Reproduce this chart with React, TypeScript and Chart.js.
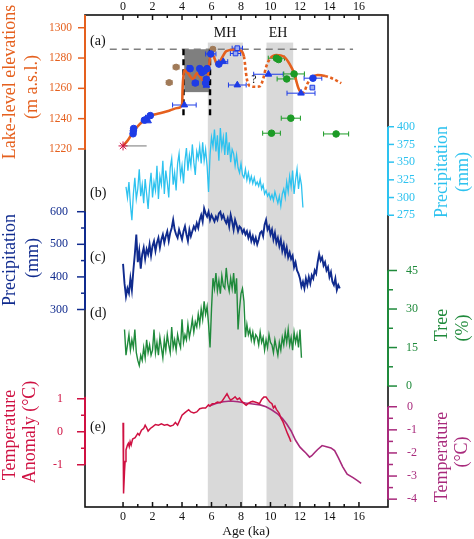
import React, { useEffect, useRef } from 'react';
import { Chart, registerables } from 'chart.js';
Chart.register(...registerables);

const FONT = '"Liberation Serif", "Times New Roman", serif';

// ---------- x axis (Age, ka) ----------
const X_MIN = -2.58;
const X_MAX = 17.97;
const AGE_TICKS = [0, 2, 4, 6, 8, 10, 12, 14, 16];
const AGE_MINOR = [1, 3, 5, 7, 9, 11, 13, 15];

// ---------- (a) lake level ----------
const LAKE_TICKS = [1220, 1240, 1260, 1280, 1300];
const LAKE_CURVE_AGE = [0, 0.35, 0.7, 1.1, 1.5, 1.9, 2.5, 3.2, 3.7, 4.0, 4.05, 4.15, 4.4, 4.75, 5.0, 5.2, 5.45, 5.7, 5.85, 5.95, 6.15, 6.4, 6.7, 7.0, 7.5, 7.95, 8.2, 8.4, 8.6, 9.0, 9.3, 9.5, 9.7, 10.0, 10.4, 10.9, 11.3, 11.6, 11.9, 12.1, 12.3, 12.5, 12.8, 13.2, 13.7, 14.2, 14.8];
const LAKE_CURVE_ELEV = [1222, 1226, 1231.5, 1236, 1239.5, 1242, 1243.5, 1245.5, 1247, 1249, 1262, 1272, 1270, 1266, 1270, 1268, 1265, 1265, 1276, 1283, 1281, 1275.5, 1280, 1284.5, 1285.5, 1285, 1281, 1266, 1261.5, 1261, 1261.5, 1266, 1274, 1280, 1282, 1281, 1276, 1270, 1260, 1257, 1258, 1263, 1267, 1268.8, 1268.2, 1266.5, 1263.4];
const LAKE_DASHED = [[8.1, 9.8], [12.0, 12.6], [13.6, 15]];

const BLUE_CIRCLE_AGE = [0.68, 0.7, 0.72, 1.45, 1.85, 4.55, 4.9, 5.2, 5.35, 5.5, 5.7, 5.6, 5.65, 5.95, 6.5, 12.88];
const BLUE_CIRCLE_ELEV = [1230, 1232, 1233.5, 1239, 1242, 1273, 1263.5, 1273, 1270.5, 1271.5, 1273, 1263.5, 1266, 1282.7, 1276, 1266.7];
const BLUE_CIRCLE_ERR = [0, 0, 0, 0, 0, 0.15, 0.2, 0, 0.1, 0.1, 0.15, 0.1, 0.1, 0.35, 0, 0.6];

const BLUE_TRI_AGE = [1.55, 1.7, 4.16, 5.65, 6.8, 7.75, 9.86, 12.07];
const BLUE_TRI_ELEV = [1240, 1238.5, 1249, 1262, 1277.6, 1262.2, 1269.3, 1256.8];
const BLUE_TRI_ERR = [0, 0, 0.8, 0.15, 0.3, 0.6, 1.0, 0.95];

const BLUE_SQ_AGE = [4.5, 7.63, 7.75, 12.84];
const BLUE_SQ_ELEV = [1273.5, 1283, 1286.5, 1260.5];
const BLUE_SQ_ERR = [0.12, 0.35, 0.35, 0];

const BROWN_AGE = [3.13, 3.6, 6.09];
const BROWN_ELEV = [1263.8, 1274, 1285.8];
const BROWN_ERR = [0.2, 0.2, 0.15];

const GREEN_PT_AGE = [10.4, 10.55, 11.6, 11.1, 11.38, 10.07, 14.45];
const GREEN_PT_ELEV = [1279.9, 1279, 1269.5, 1266.2, 1240.3, 1230.4, 1229.9];
const GREEN_PT_ERR = [0.55, 0, 0.7, 0.65, 0.65, 0.6, 0.85];

const STAR_AGE = [0];
const STAR_ELEV = [1222];
const STAR_LINE_AGE = [0, 1.6];
const STAR_LINE_ELEV = [1222, 1222];

const HIGHSTAND = 1285.8;
const DARK_BOX = { x0: 4.15, x1: 5.88, y0: 1257.5, y1: 1285.8 };
const DASH_V_AGES = [4.1, 5.9];
const DASH_V_BOTTOM = 1240;
const BANDS = [[5.75, 8.13], [9.73, 11.54]];
const BAND_TOP = 1290.2;

// ---------- (b) precipitation, cyan ----------
const CYAN_TICKS = [275, 300, 325, 350, 375, 400];
const CYAN_START = 0.2;
const CYAN_STEP = 0.1;
const CYAN_PRECIP = [
  315, 300, 322, 290, 268, 305, 328, 298, 312,
  340, 302, 318, 292, 326, 305, 284, 315, 335, 300,
  322, 310, 345, 298, 330, 318, 352, 305, 338, 322,
  300, 342, 355, 318, 335, 310, 348, 362, 330, 345,
  320, 352, 370, 338, 360, 345, 375, 350, 332, 365,
  355, 372, 348, 378, 352, 368, 345, 308, 360, 385,
  372, 396, 365, 388, 352, 398, 370, 385, 360, 392,
  360, 378, 350, 368, 362, 345, 360, 342, 335, 348,
  332, 328, 340, 325, 335, 322, 330, 320, 328, 318,
  322, 316, 325, 312, 318, 305, 310, 302, 306, 298,
  304, 296, 308, 300, 292, 302, 288, 305, 312, 300,
  322, 308, 330, 315, 338, 305, 325, 340, 312, 330,
  318, 286,
];

// ---------- (c) precipitation, navy ----------
const NAVY_TICKS = [300, 400, 500, 600];
const NAVY_MINOR = [350, 450, 550];
const NAVY_START = 0.0;
const NAVY_STEP = 0.1;
const NAVY_PRECIP = [
  440, 380, 340, 365, 350, 395, 360, 420, 470, 530,
  445, 480, 425, 470, 490, 455, 485, 470, 500, 465,
  495, 510, 480, 505, 520, 490, 515, 530, 505, 525,
  540, 510, 535, 550, 575, 545, 530, 520, 545, 530,
  515, 540, 555, 530, 510, 545, 525, 540, 555, 545,
  565, 550, 575, 590, 570, 610, 595, 585, 600, 575,
  590, 580, 570, 585, 575, 595, 600, 580, 590, 575,
  565, 580, 555, 590, 570, 545, 575, 560, 540, 555,
  550, 535, 545, 530, 540, 520, 535, 510, 525, 505,
  520, 500, 515, 535, 540, 525, 560, 575, 545, 555,
  530, 545, 515, 535, 505, 520, 495, 515, 480, 500,
  470, 490, 460, 475, 455, 465, 430, 445, 420, 410,
  395, 370, 385, 365, 395, 375, 400, 380, 405, 395,
  420, 410, 445, 470, 450, 460, 435, 445, 420, 430,
  400, 415, 385, 375, 395, 360, 375, 365,
];

// ---------- (d) tree pollen ----------
const TREE_TICKS = [0, 15, 30, 45];
const TREE_MINOR = [7.5, 22.5, 37.5];
const TREE_START = 0.1;
const TREE_STEP = 0.1;
const TREE_PCT = [
  22, 12, 16, 20, 14, 18, 15, 22, 13, 10,
  8, 12, 10, 15, 11, 18, 13, 16, 12, 14,
  22, 13, 17, 12, 19, 15, 11, 18, 14, 20,
  16, 13, 23, 15, 18, 14, 20, 17, 15, 26,
  17, 20, 18, 24, 19, 22, 26, 21, 25, 23,
  28, 24, 30, 26, 33, 28, 31, 24, 15, 30,
  42, 38, 44, 37, 41, 36, 43, 39, 38, 46,
  40, 37, 42, 38, 44, 36, 42, 22, 30, 36,
  38, 33, 19, 24, 20, 22, 18, 21, 17, 20,
  19, 16, 21, 17, 19, 14, 18, 15, 20, 17,
  16, 13, 18, 15, 12, 17, 14, 19, 16, 21,
  17, 22, 16, 19, 14, 21, 17, 20, 15, 22,
  11,
];

// ---------- (e) temperature ----------
const ANOM_TICKS = [-1, 0, 1];
const ANOM_MINOR = [-0.5, 0.5];
const ANOM_AGE = [0.0, 0.02, 0.05, 0.1, 0.14, 0.2, 0.3, 0.36, 0.42, 0.48, 0.55, 0.65, 0.82, 1.0, 1.1, 1.25, 1.4, 1.5, 1.6, 1.7, 1.85, 2.0, 2.2, 2.4, 2.6, 2.8, 3.0, 3.2, 3.4, 3.55, 3.7, 3.85, 4.0, 4.2, 4.45, 4.6, 4.8, 5.0, 5.2, 5.4, 5.6, 5.8, 5.9, 6.05, 6.25, 6.4, 6.6, 6.75, 6.9, 7.05, 7.2, 7.3, 7.45, 7.6, 7.75, 7.9, 8.05, 8.2, 8.35, 8.5, 8.65, 8.8, 8.95, 9.1, 9.25, 9.4, 9.55, 9.7, 9.85, 9.95, 10.1, 10.2, 10.3, 10.4, 10.5, 10.6, 10.7, 10.85, 11.0, 11.15, 11.3, 11.38];
const ANOM_VAL = [0.27, -0.6, -1.87, -1.2, -0.9, -0.55, -0.4, -0.35, -0.45, -0.3, -0.4, -0.22, -0.18, -0.05, -0.1, 0.05, 0.1, 0.2, 0.12, 0.02, 0.1, 0.15, 0.22, 0.2, 0.24, 0.2, 0.22, 0.17, 0.2, 0.28, 0.2, 0.35, 0.5, 0.58, 0.67, 0.6, 0.57, 0.6, 0.7, 0.72, 0.72, 0.82, 0.78, 0.85, 0.86, 0.9, 0.88, 0.95, 1.05, 1.15, 1.02, 0.96, 1.0, 1.06, 0.98, 1.02, 0.92, 0.86, 0.8, 0.86, 0.9, 0.92, 0.9, 0.88, 0.85, 0.98, 1.05, 1.05, 0.96, 0.9, 0.85, 0.72, 0.78, 0.68, 0.62, 0.55, 0.42, 0.3, 0.12, -0.05, -0.2, -0.3];

const TEMP_TICKS = [-4, -3, -2, -1, 0];
const TEMP_MINOR = [-3.5, -2.5, -1.5, -0.5];
const TEMP_AGE = [5.8, 6.3, 6.8, 7.3, 7.8, 8.3, 8.8, 9.3, 9.7, 10.1, 10.5, 10.8, 11.1, 11.4, 11.7, 12.0, 12.2, 12.4, 12.65, 12.8, 13.0, 13.2, 13.5, 13.8, 14.1, 14.35, 14.6, 14.9, 15.2, 15.6, 15.9, 16.15];
const TEMP_VAL = [0.02, 0.14, 0.22, 0.25, 0.22, 0.16, 0.12, 0.08, 0.0, -0.14, -0.32, -0.5, -0.75, -1.05, -1.45, -1.75, -1.88, -2.0, -2.18, -2.12, -1.98, -1.85, -1.68, -1.73, -1.78, -1.9, -2.2, -2.6, -2.92, -3.07, -3.2, -3.32];

// ---------- colours ----------
const C_LAKE = '#E5601E';
const C_CYAN = '#2DC2EF';
const C_NAVY = '#102B8E';
const C_GREEN = '#1F8A3B';
const C_RED = '#CF1142';
const C_PURPLE = '#A82A7C';
const C_BLUEPT = '#1E3CE6';
const C_BROWN = '#A07A58';
const C_GREENPT = '#1C9B26';

const pts = (xs: number[], ys: number[]) => xs.map((x, i) => ({ x, y: ys[i] }));
const series = (start: number, step: number, ys: number[]) =>
  ys.map((y, i) => ({ x: +(start + i * step).toFixed(3), y }));

// y axes: same height as the plot, tick labels drawn at the frame by the plugin
function yAxis(min: number, max: number, position: string) {
  return {
    type: 'linear',
    position,
    min,
    max,
    grid: { display: false, drawTicks: false },
    border: { display: false },
    ticks: { display: false },
    afterFit: (s: any) => {
      s.width = 0;
    },
  };
}

function xAxis(position: string, padding: number, height: number) {
  return {
    type: 'linear',
    position,
    min: X_MIN,
    max: X_MAX,
    grid: { display: false, drawTicks: false },
    border: { display: false },
    ticks: {
      color: '#111',
      font: { family: FONT, size: 12 },
      padding,
      maxRotation: 0,
      minRotation: 0,
      autoSkip: false,
      callback: (v: number) => String(v),
    },
    afterBuildTicks: (s: any) => {
      s.ticks = AGE_TICKS.map((v) => ({ value: v }));
    },
    afterFit: (s: any) => {
      s.height = height;
    },
  };
}

// y tick-label specs: axis id, side, labels, colour, font size, gap from frame
const Y_LABELS: [string, string, number[], string, number, number][] = [
  ['yLake', 'left', LAKE_TICKS, C_LAKE, 11.5, 13],
  ['yNavy', 'left', NAVY_TICKS, C_NAVY, 12, 17],
  ['yAnom', 'left', ANOM_TICKS, C_RED, 12, 22],
  ['yCyan', 'right', CYAN_TICKS, C_CYAN, 12, 9],
  ['yTree', 'right', TREE_TICKS, C_GREEN, 12, 18],
  ['yTemp', 'right', TEMP_TICKS, C_PURPLE, 12, 19],
];

const decorPlugin = {
  id: 'decor',
  beforeDatasetsDraw(chart: any) {
    const ctx = chart.ctx;
    const { bottom } = chart.chartArea;
    const x = chart.scales.x;
    const yL = chart.scales.yLake;
    ctx.save();
    ctx.fillStyle = '#D9D9D9';
    BANDS.forEach(([a, b]) => {
      const x0 = x.getPixelForValue(a);
      const x1 = x.getPixelForValue(b);
      const y0 = yL.getPixelForValue(BAND_TOP);
      ctx.fillRect(x0, y0, x1 - x0, bottom - y0);
    });
    ctx.fillStyle = '#7F7F7F';
    const bx0 = x.getPixelForValue(DARK_BOX.x0);
    const bx1 = x.getPixelForValue(DARK_BOX.x1);
    const by0 = yL.getPixelForValue(DARK_BOX.y1);
    const by1 = yL.getPixelForValue(DARK_BOX.y0);
    ctx.fillRect(bx0, by0, bx1 - bx0, by1 - by0);
    ctx.strokeStyle = '#808080';
    ctx.lineWidth = 1.6;
    ctx.setLineDash([7, 5]);
    ctx.beginPath();
    const hy = yL.getPixelForValue(HIGHSTAND);
    ctx.moveTo(x.getPixelForValue(-0.9), hy);
    ctx.lineTo(x.getPixelForValue(15.6), hy);
    ctx.stroke();
    ctx.strokeStyle = '#000';
    ctx.lineWidth = 2.4;
    ctx.setLineDash([6, 4]);
    DASH_V_AGES.forEach((a) => {
      const px = x.getPixelForValue(a);
      ctx.beginPath();
      ctx.moveTo(px, hy);
      ctx.lineTo(px, yL.getPixelForValue(DASH_V_BOTTOM));
      ctx.stroke();
    });
    ctx.setLineDash([]);
    chart.data.datasets.forEach((ds: any) => {
      if (!ds.errs) return;
      const ys = chart.scales[ds.yAxisID];
      ctx.strokeStyle = ds.errColor;
      ctx.lineWidth = 1;
      ds.data.forEach((p: any, j: number) => {
        const e = ds.errs[j];
        if (!e) return;
        const xa = x.getPixelForValue(p.x - e);
        const xb = x.getPixelForValue(p.x + e);
        const py = ys.getPixelForValue(p.y);
        ctx.beginPath();
        ctx.moveTo(xa, py);
        ctx.lineTo(xb, py);
        ctx.moveTo(xa, py - 2.5);
        ctx.lineTo(xa, py + 2.5);
        ctx.moveTo(xb, py - 2.5);
        ctx.lineTo(xb, py + 2.5);
        ctx.stroke();
      });
    });
    ctx.restore();
  },
  afterDraw(chart: any) {
    const ctx = chart.ctx;
    const { left, right, top, bottom } = chart.chartArea;
    const x = chart.scales.x;
    const S = chart.scales;
    ctx.save();
    ctx.strokeStyle = '#111';
    ctx.lineWidth = 1.6;
    ctx.strokeRect(left, top, right - left, bottom - top);
    const seg = (px: number, scale: any, a: number, b: number, color: string, clampTop = false) => {
      ctx.strokeStyle = color;
      ctx.lineWidth = 2;
      ctx.beginPath();
      ctx.moveTo(px, clampTop ? top : scale.getPixelForValue(a));
      ctx.lineTo(px, scale.getPixelForValue(b));
      ctx.stroke();
    };
    seg(left, S.yLake, 1308, 1219.5, C_LAKE, true);
    seg(left, S.yNavy, 600, 300, C_NAVY);
    seg(left, S.yAnom, 1.06, -1, C_RED);
    seg(right, S.yCyan, 400, 275, C_CYAN);
    seg(right, S.yTree, 45, 0, C_GREEN);
    seg(right, S.yTemp, 0, -4, C_PURPLE);
    const ticksY = (scale: any, side: string, vals: number[], len: number, color: string) => {
      ctx.strokeStyle = color;
      ctx.lineWidth = 1.5;
      vals.forEach((v) => {
        const py = scale.getPixelForValue(v);
        ctx.beginPath();
        if (side === 'left') {
          ctx.moveTo(left - len, py);
          ctx.lineTo(left, py);
        } else {
          ctx.moveTo(right, py);
          ctx.lineTo(right + len, py);
        }
        ctx.stroke();
      });
    };
    ticksY(S.yLake, 'left', LAKE_TICKS, 7, C_LAKE);
    ticksY(S.yNavy, 'left', NAVY_TICKS, 8, C_NAVY);
    ticksY(S.yNavy, 'left', NAVY_MINOR, 4, C_NAVY);
    ticksY(S.yAnom, 'left', ANOM_TICKS, 8, C_RED);
    ticksY(S.yAnom, 'left', ANOM_MINOR, 4, C_RED);
    ticksY(S.yCyan, 'right', CYAN_TICKS, 6, C_CYAN);
    ticksY(S.yTree, 'right', TREE_TICKS, 9, C_GREEN);
    ticksY(S.yTree, 'right', TREE_MINOR, 5, C_GREEN);
    ticksY(S.yTemp, 'right', TEMP_TICKS, 9, C_PURPLE);
    ticksY(S.yTemp, 'right', TEMP_MINOR, 5, C_PURPLE);
    ctx.strokeStyle = '#111';
    ctx.lineWidth = 1.5;
    const xt = (vals: number[], len: number) => {
      vals.forEach((v) => {
        const px = x.getPixelForValue(v);
        ctx.beginPath();
        ctx.moveTo(px, bottom);
        ctx.lineTo(px, bottom - len);
        ctx.moveTo(px, top);
        ctx.lineTo(px, top + len);
        ctx.stroke();
      });
    };
    xt(AGE_TICKS, 5);
    xt(AGE_MINOR, 3);

    // y tick labels from each scale
    Y_LABELS.forEach(([id, side, vals, color, size, gap]) => {
      const sc = S[id];
      ctx.fillStyle = color;
      ctx.font = `${size}px ${FONT}`;
      ctx.textBaseline = 'middle';
      ctx.textAlign = side === 'left' ? 'right' : 'left';
      vals.forEach((v) => {
        const px = side === 'left' ? left - gap : right + gap;
        ctx.fillText(String(v), px, sc.getPixelForValue(v));
      });
    });

    const text = (s: string, px: number, py: number, color: string, size: number, rot = false, align: CanvasTextAlign = 'center') => {
      ctx.save();
      ctx.fillStyle = color;
      ctx.font = `${size}px ${FONT}`;
      ctx.textAlign = align;
      ctx.textBaseline = 'middle';
      ctx.translate(px, py);
      if (rot) ctx.rotate(-Math.PI / 2);
      ctx.fillText(s, 0, 0);
      ctx.restore();
    };
    text('Lake-level elevations', 10, 82, C_LAKE, 18, true);
    text('(m a.s.l.)', 32, 87, C_LAKE, 18, true);
    text('Precipitation', 10, 260, C_NAVY, 18, true);
    text('(mm)', 33, 258, C_NAVY, 18, true);
    text('Temperature', 10, 435, C_RED, 18, true);
    text('Anomaly (°C)', 30, 432, C_RED, 18, true);
    text('Precipitation', 442, 172, C_CYAN, 18, true);
    text('(mm)', 463, 172, C_CYAN, 18, true);
    text('Tree', 442, 325, C_GREEN, 18, true);
    text('(%)', 463, 328, C_GREEN, 18, true);
    text('Temperature', 442, 457, C_PURPLE, 18, true);
    text('(°C)', 462, 452, C_PURPLE, 18, true);
    text('Age (ka)', 246, 531, '#111', 13.5);
    text('(a)', 90, 41, '#111', 14, false, 'left');
    text('(b)', 90, 193, '#111', 14, false, 'left');
    text('(c)', 90, 257, '#111', 14, false, 'left');
    text('(d)', 90, 313, '#111', 14, false, 'left');
    text('(e)', 90, 427, '#111', 14, false, 'left');
    text('MH', 225, 33, '#111', 14);
    text('EH', 278, 33, '#111', 14);
    text('?', 254, 80, '#111', 12);
    ctx.restore();
  },
};

export default function App() {
  const ref = useRef<HTMLCanvasElement | null>(null);
  useEffect(() => {
    if (!ref.current) return;
    const scatter = (label: string, data: any[], style: string, r: number, bg: string, border: string, errs?: number[], errColor?: string) => ({
      type: 'scatter',
      label,
      data,
      xAxisID: 'x',
      yAxisID: 'yLake',
      pointStyle: style,
      pointRadius: r,
      backgroundColor: bg,
      borderColor: border,
      borderWidth: 1,
      showLine: false,
      order: 0,
      errs,
      errColor,
    });
    const line = (label: string, data: any[], yAxisID: string, color: string, width: number, order: number) => ({
      type: 'line',
      label,
      data,
      xAxisID: 'x',
      yAxisID,
      borderColor: color,
      borderWidth: width,
      pointRadius: 0,
      fill: false,
      tension: 0,
      order,
    });
    const chart = new Chart(ref.current, {
      type: 'line',
      data: {
        datasets: [
          scatter('Star', pts(STAR_AGE, STAR_ELEV), 'star', 4.5, C_RED, C_RED),
          scatter('Blue circles', pts(BLUE_CIRCLE_AGE, BLUE_CIRCLE_ELEV), 'circle', 3.3, C_BLUEPT, C_BLUEPT, BLUE_CIRCLE_ERR, C_BLUEPT),
          scatter('Blue triangles', pts(BLUE_TRI_AGE, BLUE_TRI_ELEV), 'triangle', 3.8, C_BLUEPT, C_BLUEPT, BLUE_TRI_ERR, C_BLUEPT),
          scatter('Blue squares', pts(BLUE_SQ_AGE, BLUE_SQ_ELEV), 'rect', 3.3, '#9AAAF2', C_BLUEPT, BLUE_SQ_ERR, C_BLUEPT),
          scatter('Brown', pts(BROWN_AGE, BROWN_ELEV), 'circle', 3, C_BROWN, C_BROWN, BROWN_ERR, C_BROWN),
          scatter('Green', pts(GREEN_PT_AGE, GREEN_PT_ELEV), 'circle', 3.3, C_GREENPT, C_GREENPT, GREEN_PT_ERR, C_GREENPT),
          {
            ...line('Lake level', pts(LAKE_CURVE_AGE, LAKE_CURVE_ELEV), 'yLake', C_LAKE, 2.6, 1),
            cubicInterpolationMode: 'monotone',
            segment: {
              borderDash: (c: any) => {
                const a = c.p0.parsed.x;
                return LAKE_DASHED.some(([s, e]) => a >= s && a < e) ? [3, 2.5] : undefined;
              },
            },
          },
          line('Star range', pts(STAR_LINE_AGE, STAR_LINE_ELEV), 'yLake', '#8C8C8C', 1.2, 2),
          line('Precipitation (b)', series(CYAN_START, CYAN_STEP, CYAN_PRECIP), 'yCyan', C_CYAN, 1.3, 3),
          line('Precipitation (c)', series(NAVY_START, NAVY_STEP, NAVY_PRECIP), 'yNavy', C_NAVY, 1.9, 3),
          line('Tree', series(TREE_START, TREE_STEP, TREE_PCT), 'yTree', C_GREEN, 1.4, 3),
          line('Temperature', pts(TEMP_AGE, TEMP_VAL), 'yTemp', C_PURPLE, 1.6, 4),
          line('Temperature anomaly', pts(ANOM_AGE, ANOM_VAL), 'yAnom', C_RED, 1.5, 3),
        ] as any,
      },
      options: {
        responsive: true,
        maintainAspectRatio: false,
        animation: false,
        events: [],
        layout: { padding: { left: 85, right: 86, top: 0, bottom: 12 } },
        plugins: { legend: { display: false }, tooltip: { enabled: false } },
        scales: {
          x: xAxis('bottom', 3, 20),
          xTop: xAxis('top', 1, 15),
          yLake: yAxis(983.7, 1308.4, 'left'),
          yNavy: yAxis(-305.8, 1203.4, 'left'),
          yAnom: yAxis(-2.28, 12.63, 'left'),
          yCyan: yAxis(-137.1, 557.8, 'right'),
          yTree: yAxis(-47.1, 144.5, 'right'),
          yTemp: yAxis(-4.34, 16.96, 'right'),
        } as any,
      },
      plugins: [decorPlugin],
    } as any);
    return () => chart.destroy();
  }, []);
  return (
    <div style={{ position: 'absolute', left: 0, top: 0, width: 474, height: 539, background: '#fff' }}>
      <canvas ref={ref} />
    </div>
  );
}
